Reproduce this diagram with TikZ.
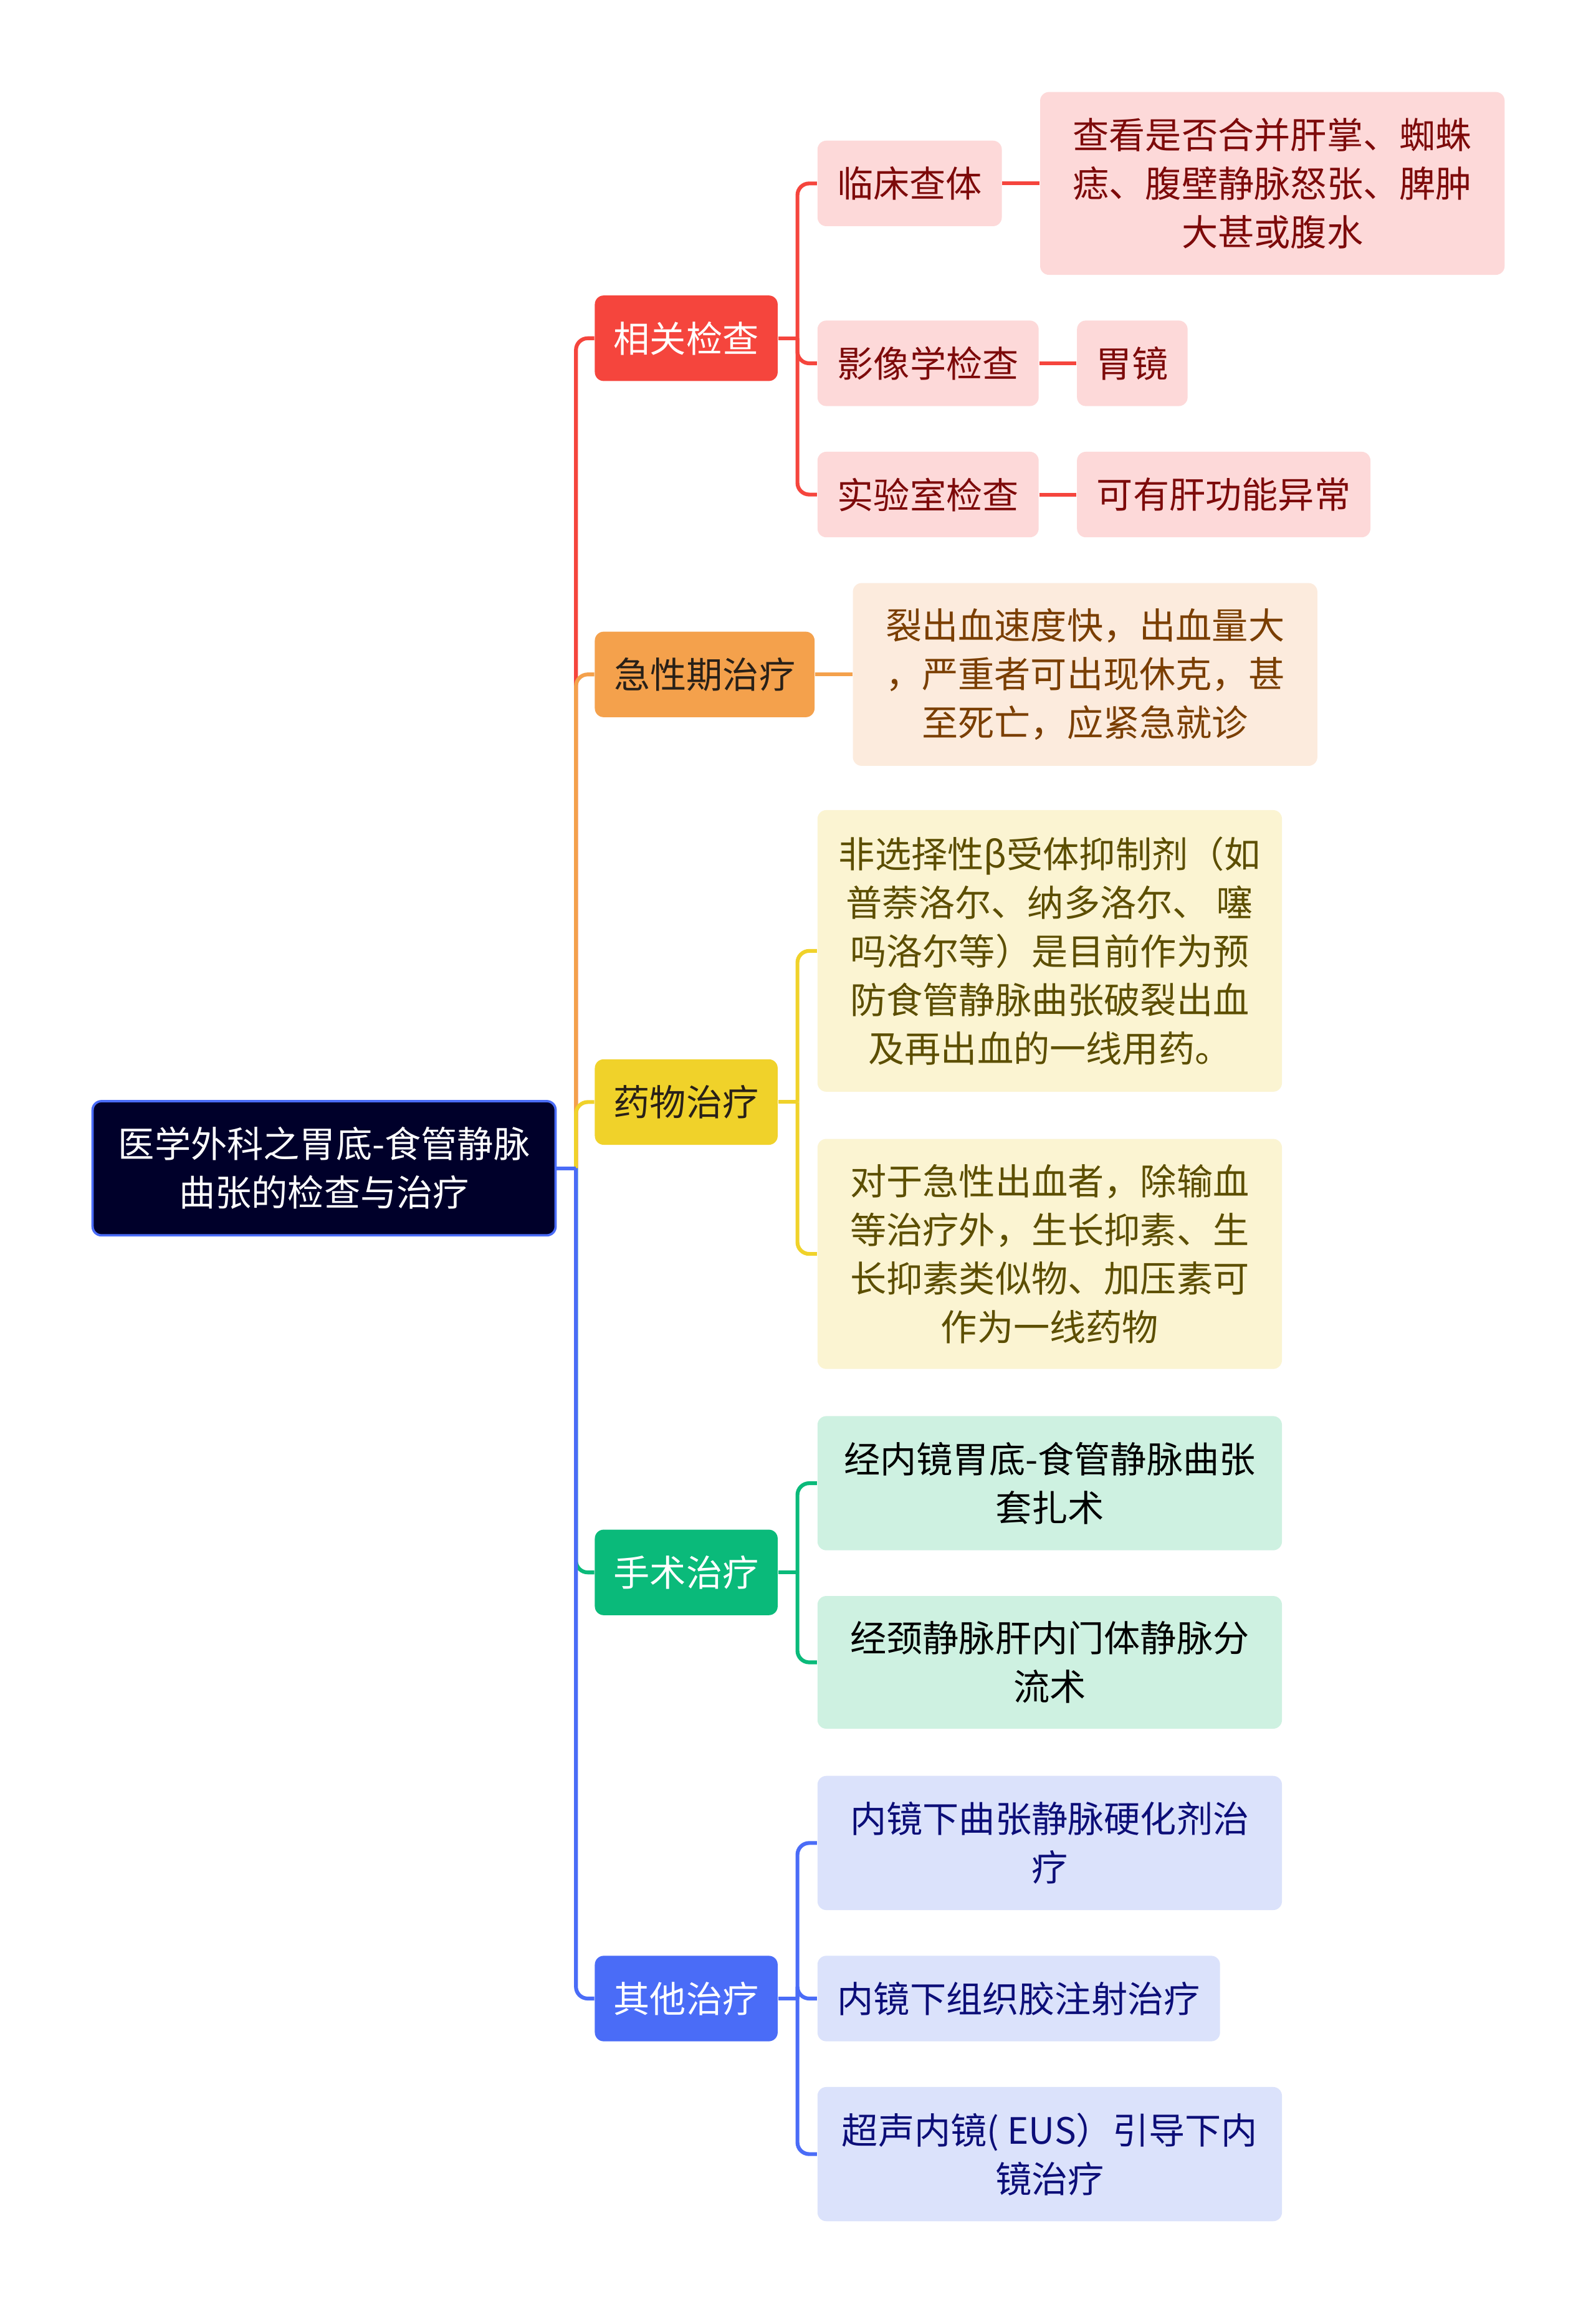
\documentclass[tikz,border=0pt]{standalone}
\usepackage{fontspec}
\setmainfont{Noto Sans CJK SC}
\usepackage{tikz}
\usetikzlibrary{arrows.meta,positioning,calc}
\usepackage{xcolor}
\definecolor{rootnavy}{RGB}{0,0,42}
\definecolor{redmain}{RGB}{245,69,61}
\definecolor{redlight}{RGB}{253,217,217}
\definecolor{redtext}{RGB}{125,10,10}
\definecolor{orangemain}{RGB}{244,161,76}
\definecolor{orangelight}{RGB}{252,235,221}
\definecolor{orangetext}{RGB}{122,62,0}
\definecolor{yellowmain}{RGB}{240,210,42}
\definecolor{yellowlight}{RGB}{251,244,210}
\definecolor{yellowtext}{RGB}{92,78,0}
\definecolor{greenmain}{RGB}{10,186,122}
\definecolor{greenlight}{RGB}{206,241,225}
\definecolor{bluemain}{RGB}{74,108,247}
\definecolor{bluelight}{RGB}{219,226,251}
\definecolor{bluetext}{RGB}{12,14,120}
\definecolor{darktext}{RGB}{40,32,24}

\tikzset{
    box/.style={rounded corners=3pt, anchor=north west, align=center, inner sep=0pt,
        font=\fontsize{12.3}{16.5}\selectfont},
    boxsize/.style 2 args={minimum width=#1*0.5pt, minimum height=#2*0.5pt},
    conn/.style={line width=1.3pt},
}

\begin{document}
\begin{tikzpicture}[x=0.5pt, y=-0.5pt]
        \fill[white] (0,0) rectangle (1082,1568);
        \useasboundingbox (0,0) rectangle (1082,1568);
        % Root
        \node[box, boxsize={314}{91}, fill=rootnavy, draw=bluemain, line width=0.8pt, text=white] (root) at (62,746)
            {医学外科之胃底-食管静脉\\曲张的检查与治疗};
        % Main branches
        \node[box, boxsize={124}{58}, fill=redmain, text=white] (xg) at (403,200) {相关检查};
        \node[box, boxsize={149}{58}, fill=orangemain, text=darktext] (jx) at (403,428) {急性期治疗};
        \node[box, boxsize={124}{58}, fill=yellowmain, text=darktext] (yw) at (403,718) {药物治疗};
        \node[box, boxsize={124}{58}, fill=greenmain, text=white] (ss) at (403,1037) {手术治疗};
        \node[box, boxsize={124}{58}, fill=bluemain, text=white] (qt) at (403,1326) {其他治疗};
        % Related examinations
        \node[box, boxsize={125}{58}, fill=redlight, text=redtext] (lc) at (554,95) {临床查体};
        \node[box, boxsize={150}{58}, fill=redlight, text=redtext] (yx) at (554,217) {影像学检查};
        \node[box, boxsize={150}{58}, fill=redlight, text=redtext] (sy) at (554,306) {实验室检查};
        \node[box, boxsize={315}{124}, fill=redlight, text=redtext] (lcd) at (705,62)
            {查看是否合并肝掌、蜘蛛\\痣、腹壁静脉怒张、脾肿\\大甚或腹水};
        \node[box, boxsize={75}{58}, fill=redlight, text=redtext] (yxd) at (730,217) {胃镜};
        \node[box, boxsize={199}{58}, fill=redlight, text=redtext] (syd) at (730,306) {可有肝功能异常};
        % Acute phase
        \node[box, boxsize={315}{124}, fill=orangelight, text=orangetext] (jxd) at (578,395)
            {裂出血速度快，出血量大\\，严重者可出现休克，甚\\至死亡，应紧急就诊};
        % Drugs
        \node[box, boxsize={315}{191}, fill=yellowlight, text=yellowtext] (yw1) at (554,549)
            {非选择性β受体抑制剂（如\\普萘洛尔、纳多洛尔、 噻\\吗洛尔等）是目前作为预\\防食管静脉曲张破裂出血\\及再出血的一线用药。};
        \node[box, boxsize={315}{156}, fill=yellowlight, text=yellowtext] (yw2) at (554,772)
            {对于急性出血者，除输血\\等治疗外，生长抑素、生\\长抑素类似物、加压素可\\作为一线药物};
        % Surgery
        \node[box, boxsize={315}{91}, fill=greenlight, text=black] (ss1) at (554,960)
            {经内镜胃底-食管静脉曲张\\套扎术};
        \node[box, boxsize={315}{90}, fill=greenlight, text=black] (ss2) at (554,1082)
            {经颈静脉肝内门体静脉分\\流术};
        % Other
        \node[box, boxsize={315}{91}, fill=bluelight, text=bluetext] (qt1) at (554,1204)
            {内镜下曲张静脉硬化剂治\\疗};
        \node[box, boxsize={273}{58}, fill=bluelight, text=bluetext] (qt2) at (554,1326)
            {内镜下组织胶注射治疗};
        \node[box, boxsize={315}{91}, fill=bluelight, text=bluetext] (qt3) at (554,1415)
            {超声内镜( EUS）引导下内\\镜治疗};
        % Junctions
        \coordinate (rj) at ([xshift=6.5pt]root.east);
        \coordinate (xj) at ([xshift=6.5pt]xg.east);
        \coordinate (yj) at ([xshift=6.5pt]yw.east);
        \coordinate (sj) at ([xshift=6.5pt]ss.east);
        \coordinate (qj) at ([xshift=6.5pt]qt.east);
        % Root to branches
        \foreach \n/\c in {xg/redmain, jx/orangemain, yw/yellowmain, ss/greenmain, qt/bluemain} {
            \draw[conn, \c] (root.east) -- (rj);
            \draw[conn, \c, rounded corners=4pt] (rj) |- (\n.west);
        }
        % Branches to leaves
        \foreach \p/\j/\n/\c in {xg/xj/lc/redmain, xg/xj/yx/redmain, xg/xj/sy/redmain,
                                 yw/yj/yw1/yellowmain, yw/yj/yw2/yellowmain,
                                 ss/sj/ss1/greenmain, ss/sj/ss2/greenmain,
                                 qt/qj/qt1/bluemain, qt/qj/qt2/bluemain, qt/qj/qt3/bluemain} {
            \draw[conn, \c] (\p.east) -- (\j);
            \draw[conn, \c, rounded corners=4pt] (\j) |- (\n.west);
        }
        \draw[conn, orangemain] (jx.east) -- (jxd.west);
        \draw[conn, redmain] (lc.east) -- (lcd.west);
        \draw[conn, redmain] (yx.east) -- (yxd.west);
        \draw[conn, redmain] (sy.east) -- (syd.west);
    \end{tikzpicture}
\end{document}
